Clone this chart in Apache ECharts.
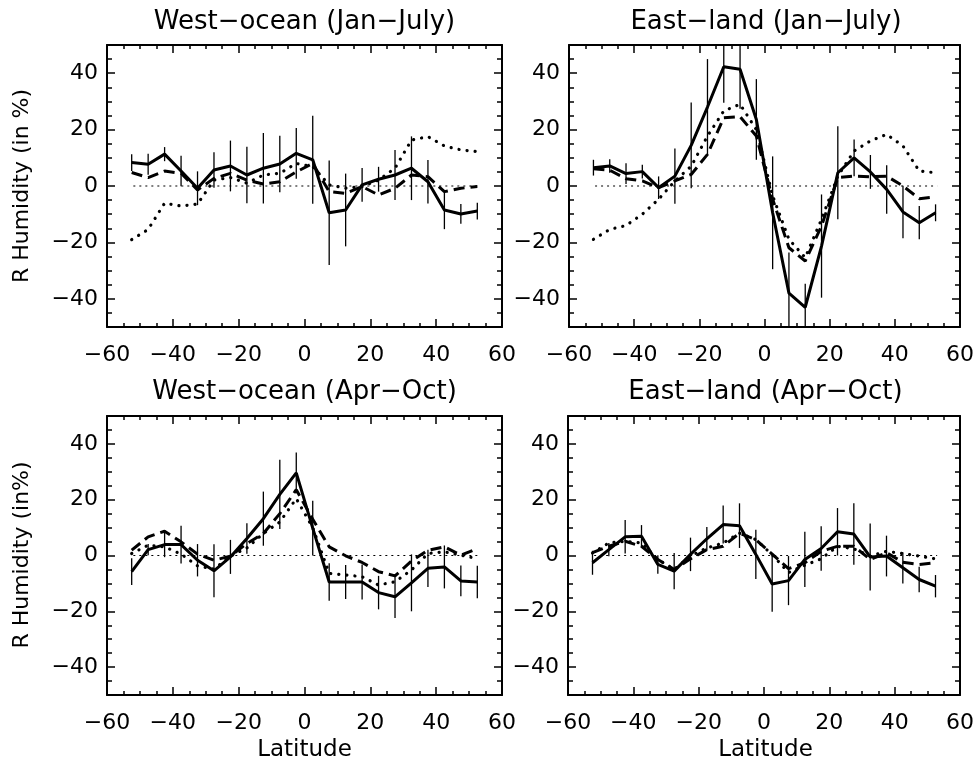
<!DOCTYPE html>
<html>
<head>
<meta charset="utf-8">
<script src="https://cdn.jsdelivr.net/npm/echarts@6/dist/echarts.min.js"></script>
<style>html,body{margin:0;padding:0;background:#fff}#c{width:977px;height:763px}</style>
</head>
<body>
<div id="c"></div>
<script>
// ---- data ----
const lat = [-52.5,-47.5,-42.5,-37.5,-32.5,-27.5,-22.5,-17.5,-12.5,-7.5,-2.5,2.5,7.5,12.5,17.5,22.5,27.5,32.5,37.5,42.5,47.5,52.5];

const woJanSolid = [8.3,7.7,11.3,5.3,-0.8,5.7,7.1,3.9,6.3,7.8,11.6,9.3,-9.5,-8.5,0.4,2.4,3.9,6.3,1.5,-8.5,-9.9,-8.9];
const woJanErr   = [3,3.7,2.5,5.4,6,6.3,9,10,12.5,10,9,15.6,18.5,12.9,6,4.4,8.9,11.3,7.7,6.8,3.5,3];
const woJanDash  = [4.8,3,5.3,4.5,-1.4,2.7,4.5,2.1,0.7,1.5,5,8,-2,-2.6,-0.2,-3.2,-0.8,3.9,3.3,-2,-0.8,-0.2];
const woJanDot   = [-19,-15.4,-6.1,-7.1,-6.4,2.1,3,1,3.9,4.5,8,6.9,0.4,-0.8,-0.2,2.1,6.3,16.3,17.5,14.2,12.8,12.2];

const elJanSolid = [6.5,7.1,4.4,5.1,-0.6,3.5,14.4,28,42.3,41.4,23.6,-9.5,-38,-43,-21.3,4.7,10,5,-1.2,-9.2,-13,-9.5];
const elJanErr   = [2.8,2.4,3.7,2.4,4,9.8,15.2,17,12.8,14,14.3,20,14.4,8.3,18.3,16.5,6.5,6,8.6,9.3,5.9,3];
const elJanDash  = [6.1,5.6,2.6,1.8,-0.6,1.8,4.1,11.2,24.2,24.6,17.7,-4.7,-21.9,-26.6,-14.2,3,3.5,3.3,3.5,0,-4.5,-3.8];
const elJanDot   = [-18.9,-15.4,-14,-10,-4.7,1.8,7,17.7,26.6,29,20,-3.5,-18.9,-25.4,-11.8,3.5,12.4,16,18.3,14.2,5.3,4.7];

const woAprSolid = [-5.8,2.1,3.9,3.9,-1.7,-5.5,-0.5,6.1,13.2,21.9,29.6,9.8,-9.5,-9.5,-9.5,-13.3,-14.8,-9.8,-4.6,-4.1,-9.1,-9.5];
const woAprErr   = [4.8,2,4.5,6.8,5.8,9.5,6.1,5.5,9.7,12.4,7.3,9.8,6.7,6.1,6.3,6,7.6,10.2,6.7,7.7,5.5,5.8];
const woAprDash  = [1.9,6.7,8.7,4.9,0.5,-1.7,-0.2,4.3,7.9,15,23.6,13,3.1,-0.1,-2.5,-5.8,-7.3,-2,1.9,3.1,0.1,2.5];
const woAprDot   = [0.7,3.7,3.1,0.5,-3.7,-4.9,-0.2,2.7,7.9,12,20.4,10,-6.4,-7,-7.6,-10.6,-9.4,-5.2,0.7,1.3,0.1,-1.1];

const elAprSolid = [-2.6,2.1,6.7,6.9,-3.2,-5.6,0.4,6,11.1,10.7,0.4,-10.2,-9,-1.4,2.5,8.5,7.7,-0.5,-0.2,-4.4,-8.6,-11];
const elAprErr   = [4.3,2.4,6,4,3.3,6.5,6,4.2,6.8,8,8.8,10,8.8,9.9,8,8.5,11,12,7.3,5.6,4.6,4];
const elAprDash  = [1,3.3,5.1,3.3,-1.4,-5,-1.2,2.1,3.3,8,5.7,0.5,-4.7,-2.6,1.5,3.3,3.3,-1.4,1,-2.4,-3.2,-2.6];
const elAprDot   = [0.9,4.5,5.1,4.5,-1.4,-5,-0.2,2.7,4.5,8,5.7,0.3,-6.1,-3.5,-1.2,3.3,2.4,-0.2,1.5,0.7,-0.2,-1.2];

const zeroX = [-52, 53];
const yMajor = [-40,-20,0,20,40];
const titles = ['West−ocean (Jan−July)','East−land (Jan−July)','West−ocean (Apr−Oct)','East−land (Apr−Oct)'];
const yNames = ['R Humidity (in %)','R Humidity (in%)'];
const xName = 'Latitude';

const panels = [
  {solid:woJanSolid, err:woJanErr, dash:woJanDash, dot:woJanDot},
  {solid:elJanSolid, err:elJanErr, dash:elJanDash, dot:elJanDot},
  {solid:woAprSolid, err:woAprErr, dash:woAprDash, dot:woAprDot},
  {solid:elAprSolid, err:elAprErr, dash:elAprDash, dot:elAprDot}
];

// ---- layout ----
const grids = [
  {left:107, top:45, width:395, height:282},
  {left:569, top:45, width:394, height:282},
  {left:107, top:416, width:395, height:279},
  {left:568, top:416, width:395, height:279}
];
const FONT = 'DejaVu Sans';
const minus = v => String(v).replace('-', '−');
const LINE = {show:true, onZero:false, lineStyle:{color:'#000', width:2}};

const xAxis = [], yAxis = [], series = [];
grids.forEach((g, gi) => {
  const base = {type:'value', gridIndex:gi, min:-60, max:60, interval:20,
    axisLine:LINE,
    splitLine:{show:false},
    axisTick:{show:true, inside:true, length:8, lineStyle:{color:'#000', width:1.5}},
    minorTick:{show:true, splitNumber:4, length:4, lineStyle:{color:'#000', width:1.5}}};
  xAxis.push(Object.assign({}, base, {position:'bottom',
    axisLabel:{show:true, color:'#000', fontFamily:FONT, fontSize:22, margin:17, formatter:minus}}));
  xAxis.push(Object.assign({}, base, {position:'top', axisLabel:{show:false}}));
  const yb = {type:'value', gridIndex:gi, min:-50, max:50, interval:5, splitLine:{show:false}};
  yAxis.push(Object.assign({}, yb, {position:'left', axisLine:LINE,
    axisTick:{show:true, inside:true, length:5, lineStyle:{color:'#000', width:1.5}},
    axisLabel:{show:true, color:'#000', fontFamily:FONT, fontSize:22, margin:9,
      formatter: v => (yMajor.indexOf(v) >= 0 ? minus(v) : '')}}));
  yAxis.push(Object.assign({}, yb, {position:'left', axisLine:{show:false, onZero:false},
    axisTick:{show:true, inside:true, length:8, customValues:yMajor, lineStyle:{color:'#000', width:1.5}},
    axisLabel:{show:false}}));
  yAxis.push(Object.assign({}, yb, {position:'right', axisLine:LINE,
    axisTick:{show:true, inside:true, length:5, lineStyle:{color:'#000', width:1.5}},
    axisLabel:{show:false}}));
  yAxis.push(Object.assign({}, yb, {position:'right', axisLine:{show:false, onZero:false},
    axisTick:{show:true, inside:true, length:8, customValues:yMajor, lineStyle:{color:'#000', width:1.5}},
    axisLabel:{show:false}}));

  const p = panels[gi];
  const xi = gi*2, yi = gi*4;
  series.push({type:'line', xAxisIndex:xi, yAxisIndex:yi, data:zeroX.map(x=>[x,0]), symbol:'none', silent:true,
    lineStyle:{color:'#000', width:1.2, type:[2,4]}, z:1});
  series.push({type:'line', xAxisIndex:xi, yAxisIndex:yi, data:lat.map((x,i)=>[x,p.dot[i]]), symbol:'none',
    lineStyle:{color:'#000', width:3.2, type:[0.1,8], cap:'round'}, z:2});
  series.push({type:'line', xAxisIndex:xi, yAxisIndex:yi, data:lat.map((x,i)=>[x,p.dash[i]]), symbol:'none',
    lineStyle:{color:'#000', width:3, type:[11,6]}, z:3});
  series.push({type:'custom', xAxisIndex:xi, yAxisIndex:yi,
    data:lat.map((x,i)=>[x, p.solid[i]-p.err[i], p.solid[i]+p.err[i]]),
    renderItem:(params, api) => {
      const clamp = v => Math.max(-50, Math.min(50, v));
      const a = api.coord([api.value(0), clamp(api.value(1))]);
      const b = api.coord([api.value(0), clamp(api.value(2))]);
      return {type:'line', shape:{x1:a[0], y1:a[1], x2:b[0], y2:b[1]}, style:{stroke:'#000', lineWidth:1.3}};
    }, z:4});
  series.push({type:'line', xAxisIndex:xi, yAxisIndex:yi, data:lat.map((x,i)=>[x,p.solid[i]]), symbol:'none',
    lineStyle:{color:'#000', width:3, type:'solid'}, z:5});
});

const txt = (text, x, y, rot, size) => ({type:'text', x:x, y:y, rotation:rot||0,
  style:{text:text, fill:'#000', font:(size||22)+'px "'+FONT+'"', textAlign:'center', textVerticalAlign:'middle'}});

const graphic = [
  txt(titles[0], 304.5, 22, 0, 26), txt(titles[1], 766, 22, 0, 26),
  txt(titles[2], 304.5, 392, 0, 26), txt(titles[3], 765.5, 392, 0, 26),
  txt(yNames[0], 22, 186, Math.PI/2, 22), txt(yNames[1], 22, 555, Math.PI/2, 22),
  txt(xName, 304.5, 750, 0, 23), txt(xName, 765.5, 750, 0, 23)
];

const chart = echarts.init(document.getElementById('c'), null, {renderer:'canvas'});
chart.setOption({animation:false, backgroundColor:'#fff', grid:grids, xAxis:xAxis, yAxis:yAxis, series:series, graphic:graphic});
</script>
</body>
</html>
